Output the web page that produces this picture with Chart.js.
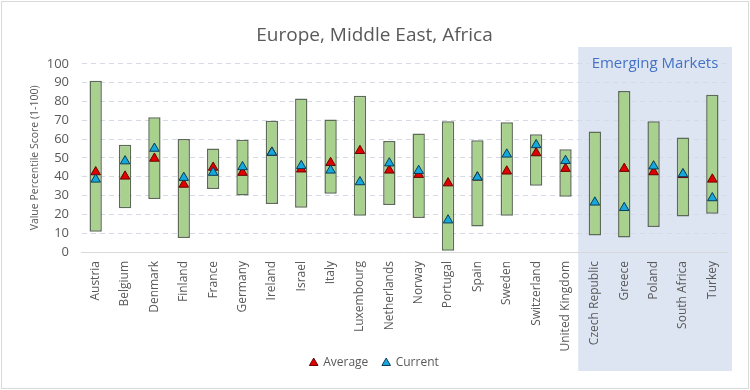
<!DOCTYPE html>
<html>
<head>
<meta charset="utf-8">
<script src="https://cdn.jsdelivr.net/npm/chart.js@4/dist/chart.umd.min.js"></script>
<style>
html,body{margin:0;padding:0;background:#fff;}
#wrap{position:relative;width:750px;height:390px;}
</style>
</head>
<body>
<div id="wrap"><canvas id="c" width="750" height="390"></canvas></div>
<script>
const categories = ["Austria","Belgium","Denmark","Finland","France","Germany","Ireland","Israel","Italy","Luxembourg","Netherlands","Norway","Portugal","Spain","Sweden","Switzerland","United Kingdom","Czech Republic","Greece","Poland","South Africa","Turkey"];
const rangeLow  = [10.8,23.3,28.2,7.5,33.5,30.0,25.5,23.5,31.0,19.2,25.0,18.0,0.7,13.6,19.2,35.2,29.4,8.8,7.7,13.3,18.8,20.3];
const rangeHigh = [91.0,57.0,71.6,60.0,55.0,59.6,69.8,81.5,70.4,83.0,59.0,63.0,69.5,59.4,68.9,62.6,54.6,64.0,85.6,69.5,60.8,83.5];
const averageVals = [42.5,40.2,49.7,35.9,44.9,42.2,52.9,44.0,47.4,53.8,43.4,41.1,36.6,39.7,42.9,52.6,44.3,null,44.3,42.5,41.0,38.6];
const currentVals = [38.6,48.3,55.0,39.5,42.2,45.2,52.9,45.8,43.4,37.2,47.2,43.2,16.9,39.7,51.9,56.9,48.5,26.4,23.5,45.6,41.5,28.7];
const yTicks = [0,10,20,30,40,50,60,70,80,90,100];
const emergingStart = "Czech Republic";
const emergingLabel = "Emerging Markets";

const gray = '#595959';
const shadePlugin = {
  id:'shade',
  beforeDraw(chart){
    const ctx = chart.ctx, x = chart.scales.x;
    const idx = categories.indexOf(emergingStart);
    const half = (x.getPixelForValue(1) - x.getPixelForValue(0))/2;
    const left = x.getPixelForValue(idx) - half - 2;
    ctx.save();
    ctx.fillStyle = '#fff';
    ctx.fillRect(0,0,750,390);
    ctx.fillStyle = '#DDE5F2';
    ctx.fillRect(left, 47, 732-left, 324);
    ctx.strokeStyle = '#D9D9D9';
    ctx.lineWidth = 1;
    ctx.strokeRect(1.5,1.5,747,387);
    ctx.restore();
  },
  afterDatasetsDraw(chart){
    const ctx = chart.ctx;
    ctx.save();
    ctx.font = '15px "Open Sans"';
    ctx.textAlign = 'center';
    ctx.textBaseline = 'middle';
    const w = ctx.measureText(emergingLabel).width;
    ctx.fillStyle = '#DDE5F2';
    ctx.fillRect(655 - w/2 - 3, 55, w + 6, 18);
    ctx.fillStyle = '#4472C4';
    ctx.fillText(emergingLabel, 655, 64);
    ctx.restore();
  }
};

const baseGen = Chart.defaults.plugins.legend.labels.generateLabels;

new Chart(document.getElementById('c'), {
  type:'bar',
  data:{
    labels: categories,
    datasets:[
      {type:'line', label:'Average', data: averageVals, showLine:false, pointStyle:'triangle', pointRadius:5.5, pointHoverRadius:5.5,
       backgroundColor:'#E00000', borderColor:'#6B0000', pointBorderWidth:1, borderWidth:1, order:2},
      {type:'line', label:'Current', data: currentVals, showLine:false, pointStyle:'triangle', pointRadius:5.5, pointHoverRadius:5.5,
       backgroundColor:'#14A8DC', borderColor:'#0B3C5A', pointBorderWidth:1, borderWidth:1, order:1},
      {type:'bar', label:'Range', data: rangeLow.map((v,i)=>[v, rangeHigh[i]]), backgroundColor:'#A9D18E', borderColor:'#5E6A58',
       borderWidth:1.5, borderSkipped:false, barPercentage:0.42, categoryPercentage:1, order:3}
    ]
  },
  options:{
    responsive:false, animation:false,
    layout:{padding:{left:22,right:23,top:0,bottom:11}},
    plugins:{
      title:{display:true, text:'Europe, Middle East, Africa', color:gray, font:{family:'"Open Sans"', size:19, weight:'normal'}, padding:{top:24,bottom:17}},
      legend:{position:'bottom', labels:{
        generateLabels:(chart)=> baseGen(chart).filter(it=>it.text!=='Range').sort((a,b)=>a.datasetIndex-b.datasetIndex).map((it,i)=>{ if(i===0) it.text = it.text + '   '; return it; }),
        usePointStyle:true, boxWidth:7, boxHeight:7, color:gray, padding:5, font:{family:'"Liberation Sans Narrow", "Open Sans"', size:12}}},
      tooltip:{enabled:false}
    },
    scales:{
      x:{
        afterFit:(s)=>{ s.height = 100; },
        grid:{display:false, drawTicks:false},
        border:{display:true, color:'#D9D9D9', width:1},
        ticks:{color:gray, font:{family:'"Open Sans"', size:12}, minRotation:90, maxRotation:90, padding:9, autoSkip:false}
      },
      y:{
        min:0, max:100,
        afterBuildTicks:(s)=>{ s.ticks = yTicks.map(v=>({value:v})); },
        afterFit:(s)=>{ s.width = 59; },
        grid:{color:'#D5DAE6', drawTicks:false, lineWidth:1, borderDash:[5,4], tickBorderDash:[5,4]},
        border:{display:true, color:'rgba(0,0,0,0)', dash:[5,4]},
        ticks:{color:gray, font:{family:'"Open Sans"', size:13}, padding:12, autoSkip:false},
        title:{display:true, text:'Value Percentile Score (1-100)', color:gray, font:{family:'"Open Sans"', size:10.5}, padding:{top:7,bottom:0}}
      }
    }
  },
  plugins:[shadePlugin]
});
</script>
</body>
</html>
